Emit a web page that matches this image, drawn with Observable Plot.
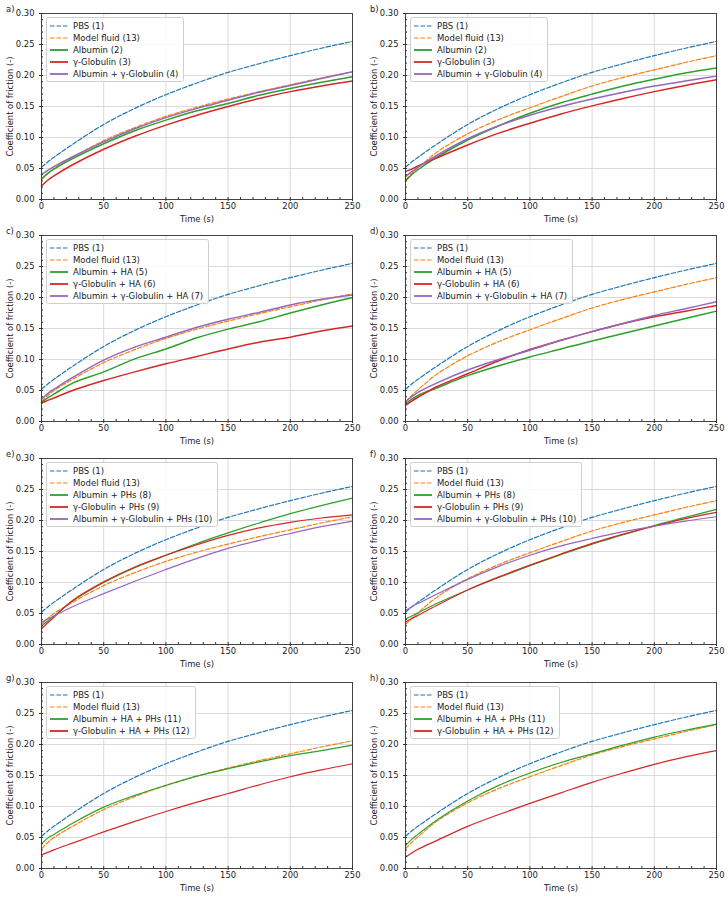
<!DOCTYPE html>
<html>
<head>
<meta charset="utf-8">
<script src="https://cdn.jsdelivr.net/npm/d3@7"></script>
<script src="https://cdn.jsdelivr.net/npm/@observablehq/plot@0.6"></script>
<style>
  body { margin: 0; background: #fff; font-family: "DejaVu Sans", sans-serif; }
  #root { position: relative; width: 728px; height: 897px; overflow: hidden; }
  .panel { position: absolute; width: 364px; height: 225px; }
  .panel svg { position: absolute; left: 0; top: 0; overflow: visible; }
  .tag { position: absolute; font-size: 8.4px; color: #222; line-height: 1; }
  .legend { position: absolute; background: rgba(255,255,255,0.85); border: 1px solid #cfcfcf; border-radius: 2.5px;
            padding: 1.6px 5px 0.6px 3px; font-size: 8.5px; color: #222; }
  .row { height: 12.2px; display: flex; align-items: center; white-space: nowrap; }
  .row svg { position: static; margin-right: 5px; flex: none; }
</style>
</head>
<body>
<div id="root"></div>
<script>
// ---- data ----
const T = [0, 5, 10, 25, 50, 75, 100, 125, 150, 175, 200, 225, 250];
const xTicks = [0, 50, 100, 150, 200, 250];
const yTicks = [0, 0.05, 0.10, 0.15, 0.20, 0.25, 0.30];
const panelTags = ["a)", "b)", "c)", "d)", "e)", "f)", "g)", "h)"];

const pbs        = [0.052, 0.0605, 0.068, 0.089, 0.121, 0.147, 0.169, 0.188, 0.205, 0.219, 0.232, 0.244, 0.255];
const modelLeft  = [0.032, 0.042, 0.050, 0.068, 0.095, 0.116, 0.134, 0.149, 0.162, 0.174, 0.185, 0.196, 0.206];
const modelRight = [0.032, 0.042, 0.051, 0.076, 0.106, 0.129, 0.148, 0.166, 0.183, 0.197, 0.209, 0.221, 0.232];

const a_alb  = [0.033, 0.042, 0.049, 0.066, 0.090, 0.111, 0.128, 0.143, 0.155, 0.168, 0.179, 0.189, 0.198];
const a_glob = [0.022, 0.031, 0.038, 0.056, 0.081, 0.102, 0.120, 0.136, 0.150, 0.163, 0.174, 0.183, 0.191];
const a_mix  = [0.040, 0.047, 0.053, 0.069, 0.093, 0.114, 0.132, 0.147, 0.160, 0.173, 0.184, 0.195, 0.206];

const b_alb  = [0.030, 0.040, 0.048, 0.068, 0.096, 0.119, 0.139, 0.156, 0.170, 0.183, 0.194, 0.204, 0.212];
const b_glob = [0.045, 0.049, 0.054, 0.067, 0.088, 0.107, 0.123, 0.138, 0.151, 0.163, 0.174, 0.184, 0.193];
const b_mix  = [0.037, 0.045, 0.052, 0.071, 0.098, 0.119, 0.136, 0.150, 0.162, 0.173, 0.183, 0.191, 0.199];

const c_alb  = [0.031, 0.038, 0.044, 0.062, 0.080, 0.101, 0.117, 0.135, 0.149, 0.161, 0.175, 0.188, 0.200];
const c_glob = [0.030, 0.034, 0.038, 0.050, 0.066, 0.080, 0.093, 0.105, 0.117, 0.128, 0.136, 0.146, 0.154];
const c_mix  = [0.036, 0.045, 0.052, 0.071, 0.099, 0.120, 0.136, 0.152, 0.165, 0.176, 0.188, 0.197, 0.204];

const d_alb  = [0.028, 0.036, 0.042, 0.054, 0.074, 0.090, 0.104, 0.117, 0.130, 0.142, 0.154, 0.166, 0.178];
const d_glob = [0.026, 0.033, 0.039, 0.056, 0.077, 0.098, 0.116, 0.131, 0.145, 0.158, 0.169, 0.178, 0.187];
const d_mix  = [0.032, 0.040, 0.047, 0.062, 0.083, 0.100, 0.115, 0.131, 0.145, 0.158, 0.171, 0.182, 0.193];

const e_alb  = [0.030, 0.038, 0.046, 0.070, 0.100, 0.124, 0.144, 0.163, 0.180, 0.196, 0.211, 0.224, 0.236];
const e_glob = [0.025, 0.035, 0.044, 0.071, 0.101, 0.125, 0.144, 0.161, 0.176, 0.188, 0.197, 0.204, 0.209];
const e_mix  = [0.036, 0.041, 0.046, 0.061, 0.082, 0.102, 0.121, 0.139, 0.155, 0.168, 0.179, 0.190, 0.199];

const f_alb  = [0.041, 0.046, 0.051, 0.066, 0.088, 0.108, 0.127, 0.145, 0.162, 0.177, 0.192, 0.205, 0.218];
const f_glob = [0.036, 0.042, 0.047, 0.063, 0.088, 0.109, 0.128, 0.146, 0.163, 0.178, 0.191, 0.203, 0.213];
const f_mix  = [0.055, 0.061, 0.066, 0.081, 0.105, 0.126, 0.144, 0.159, 0.171, 0.182, 0.191, 0.199, 0.206];

const g_alb  = [0.040, 0.049, 0.055, 0.073, 0.099, 0.118, 0.134, 0.149, 0.161, 0.172, 0.182, 0.190, 0.199];
const g_glob = [0.022, 0.026, 0.030, 0.041, 0.059, 0.076, 0.092, 0.107, 0.121, 0.135, 0.148, 0.159, 0.169];

const h_alb  = [0.037, 0.047, 0.055, 0.078, 0.109, 0.134, 0.154, 0.171, 0.185, 0.199, 0.212, 0.223, 0.233];
const h_glob = [0.018, 0.025, 0.031, 0.045, 0.068, 0.087, 0.105, 0.122, 0.139, 0.154, 0.168, 0.180, 0.190];

const labelsPBS = "PBS (1)", labelsModel = "Model fluid (13)";
const namesAB  = ["Albumin (2)", "γ-Globulin (3)", "Albumin + γ-Globulin (4)"];
const namesHA  = ["Albumin + HA (5)", "γ-Globulin + HA (6)", "Albumin + γ-Globulin + HA (7)"];
const namesPH  = ["Albumin + PHs (8)", "γ-Globulin + PHs (9)", "Albumin + γ-Globulin + PHs (10)"];
const namesHP  = ["Albumin + HA + PHs (11)", "γ-Globulin + HA + PHs (12)"];

const colors = { blue: "#1f77b4", orange: "#ff7f0e", green: "#2ca02c", red: "#d62728", purple: "#9467bd" };

// ---- panels ----
const panels = [
  { model: modelLeft,  series: [a_alb, a_glob, a_mix], names: namesAB, lw: 1.5 },
  { model: modelRight, series: [b_alb, b_glob, b_mix], names: namesAB, lw: 1.5 },
  { model: modelLeft,  series: [c_alb, c_glob, c_mix], names: namesHA, lw: 1.5 },
  { model: modelRight, series: [d_alb, d_glob, d_mix], names: namesHA, lw: 1.5 },
  { model: modelLeft,  series: [e_alb, e_glob, e_mix], names: namesPH, lw: 1.2 },
  { model: modelRight, series: [f_alb, f_glob, f_mix], names: namesPH, lw: 1.2 },
  { model: modelLeft,  series: [g_alb, g_glob], names: namesHP, lw: 1.2 },
  { model: modelRight, series: [h_alb, h_glob], names: namesHP, lw: 1.2 }
];
const solidColors = [colors.green, colors.red, colors.purple];
const rowTops = [0, 222, 445, 669];
const xMinor = d3.range(0, 251, 10).filter(v => v % 50 !== 0);
const yMinor = d3.range(1, 30).map(v => v / 100).filter((v, i) => (i + 1) % 5 !== 0);

const root = document.getElementById("root");

panels.forEach((p, i) => {
  const col = i % 2, row = Math.floor(i / 2);
  const div = document.createElement("div");
  div.className = "panel";
  div.style.left = (col * 364) + "px";
  div.style.top = rowTops[row] + "px";

  const entries = [
    { name: labelsPBS, values: pbs, color: colors.blue, dash: "4.5,2", w: 1.2 },
    { name: labelsModel, values: p.model, color: colors.orange, dash: "4.5,2", w: 1.2 },
    ...p.series.map((s, k) => ({ name: p.names[k], values: s, color: solidColors[k], dash: null, w: p.lw }))
  ];

  const lineMarks = entries.map(e => Plot.line(T.map((t, j) => ({ t, v: e.values[j] })), {
    x: "t", y: "v", stroke: e.color, strokeWidth: e.w, strokeDasharray: e.dash, curve: "catmull-rom"
  }));

  const chart = Plot.plot({
    width: 364, height: 225,
    marginLeft: 41, marginRight: 12, marginTop: 13, marginBottom: 26,
    x: { domain: [0, 250] },
    y: { domain: [0, 0.3] },
    style: { fontFamily: "DejaVu Sans, sans-serif", fontSize: "8.4px", color: "#222", background: "transparent" },
    marks: [
      Plot.gridX(xTicks, { stroke: "#d2d2d2", strokeOpacity: 1, strokeWidth: 0.8 }),
      Plot.gridY(yTicks, { stroke: "#d2d2d2", strokeOpacity: 1, strokeWidth: 0.8 }),
      ...lineMarks,
      Plot.frame({ stroke: "#333", strokeWidth: 0.9 }),
      Plot.axisX(xTicks, { tickSize: 0, tickPadding: 4, label: "Time (s)", labelAnchor: "center", labelArrow: "none", labelOffset: 22 }),
      Plot.axisX(xTicks, { tickSize: 4, dy: -2, fill: "none", stroke: "#333" }),
      Plot.axisX(xMinor, { tickSize: 2, dy: -2, fill: "none", stroke: "#333" }),
      Plot.axisY(yTicks, { tickSize: 0, tickPadding: 7, tickFormat: d3.format(".2f"), label: "Coefficient of friction (-)", labelAnchor: "center", labelArrow: "none", labelOffset: 34 }),
      Plot.axisY(yTicks, { tickSize: 4, dx: 2, fill: "none", stroke: "#333" }),
      Plot.axisY(yMinor, { tickSize: 2, dx: 2, fill: "none", stroke: "#333" })
    ]
  });
  div.appendChild(chart);

  // panel tag
  const tag = document.createElement("div");
  tag.className = "tag";
  tag.textContent = panelTags[i];
  tag.style.left = "6px";
  tag.style.top = "5px";
  div.appendChild(tag);

  // legend
  const lg = document.createElement("div");
  lg.className = "legend";
  lg.style.left = "46px";
  lg.style.top = "17px";
  entries.forEach(e => {
    const r = document.createElement("div");
    r.className = "row";
    const ns = "http://www.w3.org/2000/svg";
    const s = document.createElementNS(ns, "svg");
    s.setAttribute("width", 18); s.setAttribute("height", 6);
    const ln = document.createElementNS(ns, "line");
    ln.setAttribute("x1", 0); ln.setAttribute("x2", 18); ln.setAttribute("y1", 3); ln.setAttribute("y2", 3);
    ln.setAttribute("stroke", e.color); ln.setAttribute("stroke-width", e.dash ? 1.2 : 1.8);
    if (e.dash) ln.setAttribute("stroke-dasharray", e.dash);
    s.appendChild(ln);
    const sp = document.createElement("span");
    sp.textContent = e.name;
    r.appendChild(s); r.appendChild(sp);
    lg.appendChild(r);
  });
  div.appendChild(lg);

  root.appendChild(div);
});
</script>
</body>
</html>
